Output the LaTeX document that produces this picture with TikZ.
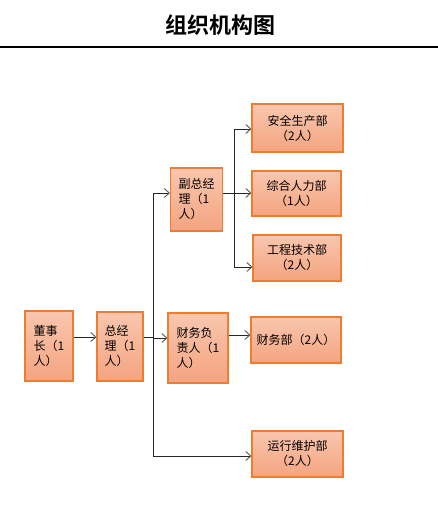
\documentclass[tikz,border=0pt]{standalone}
\usepackage{fontspec}
\setmainfont{Noto Sans CJK SC}
\newfontfamily\titlefont{Noto Sans CJK SC Bold}
\usetikzlibrary{arrows.meta}
\definecolor{boxtop}{HTML}{F9C6AE}
\definecolor{boxbot}{HTML}{F4A480}
\definecolor{boxline}{HTML}{ED7D31}
\begin{document}
\begin{tikzpicture}[x=1pt,y=-1pt,
  box/.style={draw=boxline, line width=1.1pt, top color=boxtop, bottom color=boxbot,
    inner sep=0pt, font=\fontsize{12}{15}\selectfont},
  conn/.style={line width=0.9pt, draw=black!85},
  arr/.style={conn, -{Straight Barb[length=5pt,width=9pt,line width=0.9pt,color=black!65]}}
]
\useasboundingbox (0,0) rectangle (438,527);
\node[font=\titlefont\fontsize{22}{26}\selectfont] (title) at (220,25) {组织机构图};
\coordinate (rl) at (0,47);
\coordinate (rr) at (438,47);
\draw[line width=1.3pt] (rl) -- (rr);

\node[box, minimum width=48, minimum height=70, align=left] (dsz) at (49,346) {董事\\长（1\\人）};
\node[box, minimum width=46, minimum height=69, align=left] (zjl) at (120,346.5) {总经\\理（1\\人）};
\node[box, minimum width=52, minimum height=63, align=left] (fzjl) at (196.5,199.5) {副总经\\理（1\\人）};
\node[box, minimum width=60, minimum height=70, align=left] (cwfzr) at (198,348) {财务负\\责人（1\\人）};
\node[box, minimum width=91, minimum height=48, align=center] (aqsc) at (297.5,128) {安全生产部\\（2人）};
\node[box, minimum width=89, minimum height=45, align=center] (zhrl) at (296.5,193.5) {综合人力部\\（1人）};
\node[box, minimum width=88, minimum height=46, align=center] (gcjs) at (297,258) {工程技术部\\（2人）};
\node[box, minimum width=90, minimum height=46, align=center] (cwb) at (296,340) {财务部（2人）};
\node[box, minimum width=91, minimum height=46, align=center] (yxwh) at (297.5,454) {运行维护部\\（2人）};

% trunk coordinates
\coordinate (t1) at (153,337);
\coordinate (t1top) at (153,193);
\coordinate (t1bot) at (153,456);
\coordinate (t2) at (234,193);
\coordinate (t2top) at (234,129);
\coordinate (t2bot) at (234,267);
\coordinate (yc) at (0,337);
\coordinate (yf) at (0,335);

\draw[arr] (dsz.east |- yc) -- (zjl.west |- yc);
\draw[conn] (zjl.east |- yc) -- (t1);
\draw[conn] (t1top) -- (t1bot);
\draw[arr] (t1top) -- (fzjl.west |- t1top);
\draw[arr] (t1 |- 0,338) -- (cwfzr.west |- 0,338);
\draw[arr] (t1bot) -- (yxwh.west |- t1bot);

\draw[conn] (fzjl.east |- t2) -- (t2);
\draw[conn] (t2top) -- (t2bot);
\draw[arr] (t2top) -- (aqsc.west |- t2top);
\draw[arr] (t2) -- (zhrl.west |- t2);
\draw[arr] (t2bot) -- (gcjs.west |- t2bot);

\draw[arr] (cwfzr.east |- yf) -- (cwb.west |- yf);
\end{tikzpicture}
\end{document}
